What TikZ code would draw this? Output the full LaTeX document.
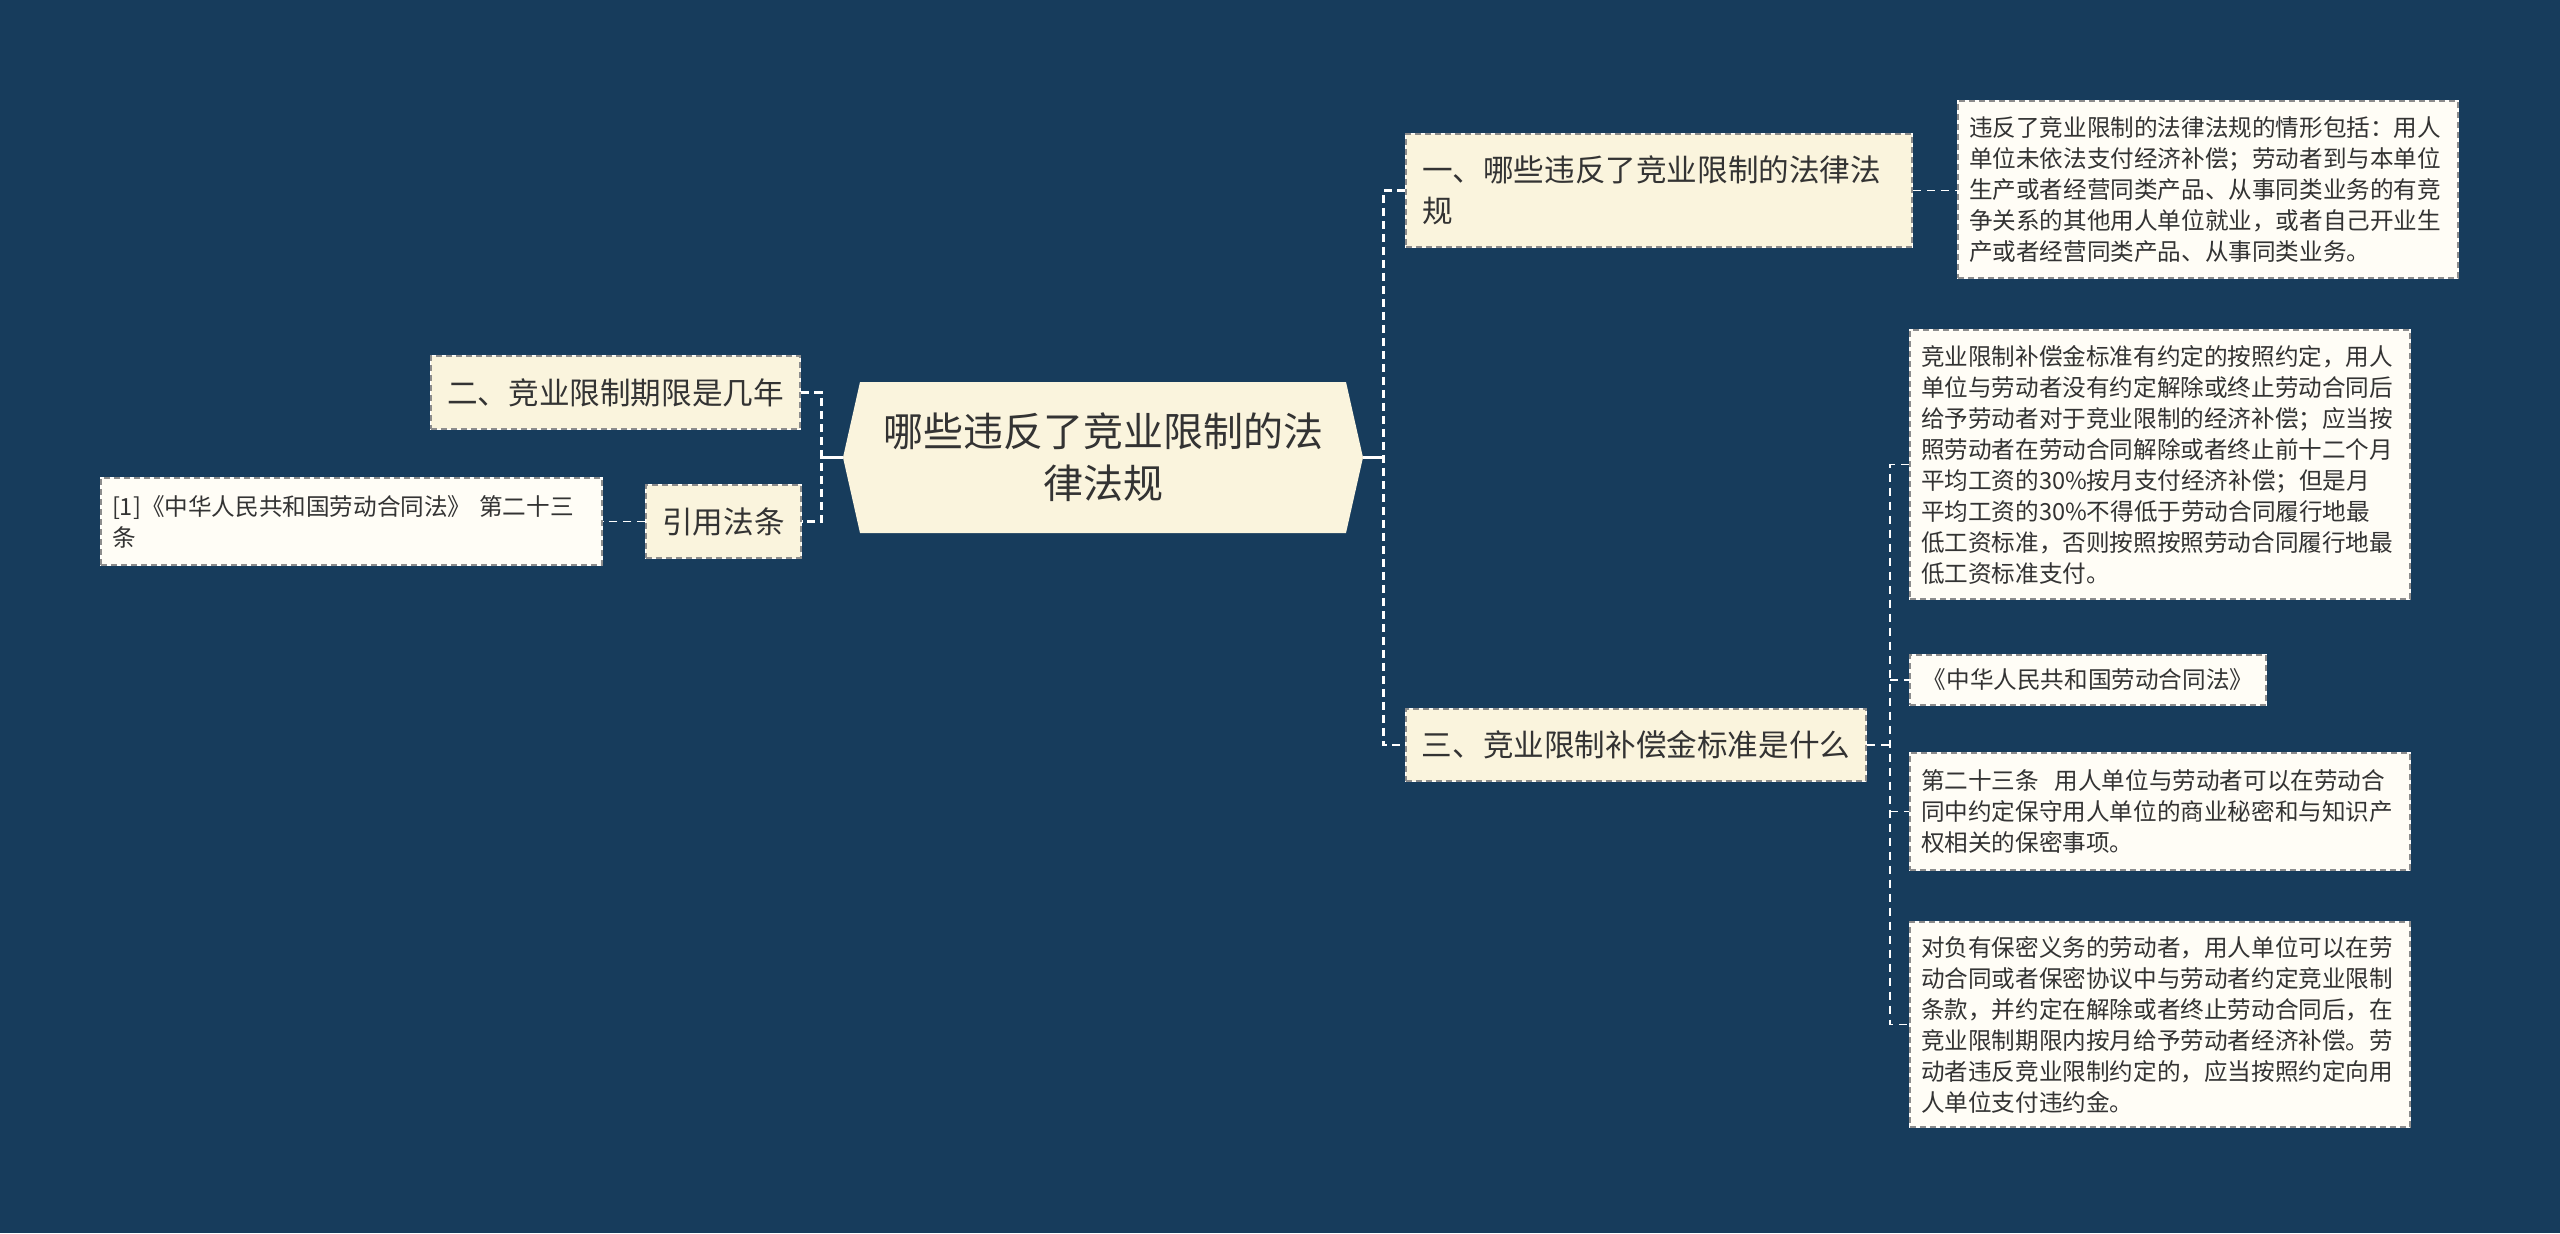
\documentclass[tikz,border=0pt]{standalone}
\usepackage{fontspec}
\setmainfont{Noto Sans CJK SC}
\definecolor{bgblue}{HTML}{173C5C}
\definecolor{cream}{HTML}{FAF4DD}
\definecolor{leafwhite}{HTML}{FFFDF6}
\definecolor{ink}{HTML}{333333}
\definecolor{rimgray}{HTML}{8C8C8C}
\tikzset{
  treenode/.style = {shape=rectangle, align=left, text=ink, inner ysep=0pt,
                     preaction={draw=white, solid, line width=1pt},
                     draw=rimgray, dash pattern=on 3pt off 2pt, line width=1pt},
  topic/.style    = {treenode, fill=cream, inner xsep=8pt,
                     font=\fontsize{15.3}{20.4}\selectfont},
  leaf/.style     = {treenode, fill=leafwhite, inner xsep=5.5pt,
                     font=\fontsize{11.8}{15.5}\selectfont},
  root/.style     = {shape=rectangle, align=center, text=ink, inner sep=0pt,
                     font=\fontsize{20}{26}\selectfont,
                     path picture={\fill[cream]
                       ([xshift=8.5pt]path picture bounding box.north west)
                       -- (path picture bounding box.west)
                       -- ([xshift=8.5pt]path picture bounding box.south west)
                       -- ([xshift=-8.5pt]path picture bounding box.south east)
                       -- (path picture bounding box.east)
                       -- ([xshift=-8.5pt]path picture bounding box.north east)
                       -- cycle;}},
  stem/.style     = {draw=white, line width=1.4pt},
  link/.style     = {draw=white, line width=1.4pt, dash pattern=on 4pt off 2.5pt},
  twig/.style     = {draw=white, line width=0.9pt, dash pattern=on 4pt off 3pt}
}

\begin{document}
\begin{tikzpicture}[x=0.5pt, y=-0.5pt]
  % background
  \fill[bgblue] (0,0) rectangle (2560,1233);

  \node [root, minimum width=260pt, minimum height=75.5pt] (root) at (1103,457.5)
    {哪些违反了竞业限制的法\\律法规};

  % right branch
  \node [topic, text width=237pt, minimum height=56.5pt] (viol) at (1659,190.5)
    {一、哪些违反了竞业限制的法律法\\规};
  \node [topic, align=center, minimum width=230pt, minimum height=36pt] (comp) at (1636,745)
    {三、竞业限制补偿金标准是什么};

  \node [leaf, text width=239pt, minimum height=88.5pt] (violcase) at (2208,189.5)
    {违反了竞业限制的法律法规的情形包括：用人\\
     单位未依法支付经济补偿；劳动者到与本单位\\
     生产或者经营同类产品、从事同类业务的有竞\\
     争关系的其他用人单位就业，或者自己开业生\\
     产或者经营同类产品、从事同类业务。};

  \node [leaf, text width=239pt, minimum height=134.5pt] (comprule) at (2160,464.5)
    {竞业限制补偿金标准有约定的按照约定，用人\\
     单位与劳动者没有约定解除或终止劳动合同后\\
     给予劳动者对于竞业限制的经济补偿；应当按\\
     照劳动者在劳动合同解除或者终止前十二个月\\
     平均工资的30\%按月支付经济补偿；但是月\\
     平均工资的30\%不得低于劳动合同履行地最\\
     低工资标准，否则按照按照劳动合同履行地最\\
     低工资标准支付。};
  \node [leaf, align=center, minimum width=178pt, minimum height=25pt] (lawname) at (2088,680)
    {《中华人民共和国劳动合同法》};
  \node [leaf, text width=239pt, minimum height=58.5pt] (art23) at (2160,811.5)
    {第二十三条\ \ 用人单位与劳动者可以在劳动合\\
     同中约定保守用人单位的商业秘密和与知识产\\
     权相关的保密事项。};
  \node [leaf, text width=239pt, minimum height=102.5pt] (secret) at (2160,1024.5)
    {对负有保密义务的劳动者，用人单位可以在劳\\
     动合同或者保密协议中与劳动者约定竞业限制\\
     条款，并约定在解除或者终止劳动合同后，在\\
     竞业限制期限内按月给予劳动者经济补偿。劳\\
     动者违反竞业限制约定的，应当按照约定向用\\
     人单位支付违约金。};

  % left branch
  \node [topic, align=center, minimum width=184.5pt, minimum height=36.5pt] (term) at (615.5,392.5)
    {二、竞业限制期限是几年};
  \node [topic, align=center, minimum width=76.5pt, minimum height=36.5pt] (cite) at (723.5,521.5)
    {引用法条};
  \node [leaf, text width=239.5pt, minimum height=43.5pt] (citeref) at (351.5,521.5)
    {[1]《中华人民共和国劳动合同法》 第二十三\\条};

  % connectors
  \draw [stem] (root.east) -- ++(20,0) coordinate (rj);
  \draw [link] (viol.west) -| (rj) |- (comp.west);
  \draw [stem] (root.west) -- ++(-21,0) coordinate (lj);
  \draw [link] (term.east) -| (lj) |- (cite.east);
  \draw [twig] (cite.west) -- (citeref.east);
  \draw [twig] (viol.east) -- (viol.east -| violcase.west);
  \draw [twig] (comp.east) -- ++(23,0) coordinate (cj);
  \draw [twig] (comprule.west) -| (cj) |- (secret.west);
  \draw [twig] (cj |- lawname.west) -- (lawname.west);
  \draw [twig] (cj |- art23.west) -- (art23.west);
\end{tikzpicture}
\end{document}
